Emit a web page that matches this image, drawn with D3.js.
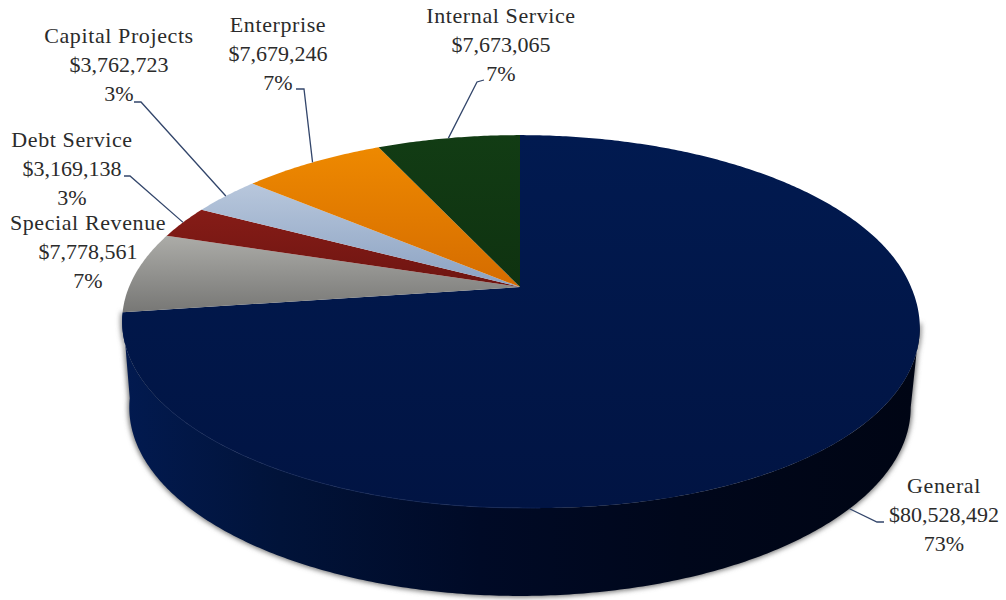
<!DOCTYPE html>
<html>
<head>
<meta charset="utf-8">
<script src="https://cdn.jsdelivr.net/npm/d3@7"></script>
<style>
  html, body { margin: 0; padding: 0; background: #fff; }
  text { font-family: "Liberation Serif", serif; font-size: 22px; fill: #2b2b2b; text-anchor: middle; }
  text.name { letter-spacing: 0.6px; }
</style>
</head>
<body>
<div id="chart"></div>
<script>
var categories = ["General", "Special Revenue", "Debt Service", "Capital Projects", "Enterprise", "Internal Service"];
var amounts = [80528492, 7778561, 3169138, 3762723, 7679246, 7673065];
var percentLabels = ["73%", "7%", "3%", "3%", "7%", "7%"];
var topColors = ["#011a50", "#acaca8", "#861c17", "#b8c7dc", "#ee8900", "#123c14"];
var bottomColors = ["#011443", "#777775", "#6e1511", "#8ba2c2", "#d56c00", "#0f3210"];

// label block centre x and first baseline y, same order as categories
var labelX = [944, 88, 72, 119, 278, 501];
var labelY = [493, 230, 147, 43, 32, 23];
// leader bends, from the pie outwards
var leaderBends = [
    [[877, 522], [884, 522]],
    null,
    [[130, 176], [124, 176]],
    [[141, 102], [134, 102]],
    [[304, 89], [296, 89]],
    [[477, 82], [484, 80]]
];

var width = 1006,
    height = 600,
    lineStep = 29;

// perspective of the tilted disc
var cx = 520,
    apexY = 287,
    radiusX = 391,
    radiusY = 180,
    tilt = 0.185;

var baseProject = function (a) {
    var w = 1 + tilt * Math.cos(a);
    return [cx + radiusX * Math.sin(a) / w, apexY - radiusY * Math.cos(a) / w];
};

// the front right of the top face bulges a little in the reference
var project = function (a) {
    var p = baseProject(a);
    if (a > Math.PI / 2 && a < Math.PI) {
        var b = Math.sin(2 * (a - Math.PI / 2));
        p = [p[0] + 5 * b, p[1] + 5 * b];
    }
    return p;
};

// rim of the bottom face, a bit narrower and lower than the top one
var projectBottom = function (a) {
    var p = baseProject(a);
    return [cx + (p[0] - cx) * 0.982, 407 + (p[1] - 321) * 1.011];
};

var line = d3.line();

var rim = function (from, to, fn) {
    var n = Math.max(2, Math.ceil(Math.abs(to - from) / 0.01));
    return d3.range(n + 1).map(function (i) {
        return fn(from + (to - from) * i / n);
    });
};

var pie = d3.pie().sort(null)(amounts);

var svg = d3.select("#chart").append("svg")
    .attr("width", width)
    .attr("height", height)
    .style("display", "block");

var defs = svg.append("defs");

defs.append("filter")
    .attr("id", "soft")
    .attr("x", "-10%").attr("y", "-10%").attr("width", "120%").attr("height", "120%")
    .append("feGaussianBlur")
    .attr("stdDeviation", 2.5);

var sideGrad = defs.append("linearGradient")
    .attr("id", "side")
    .attr("gradientUnits", "userSpaceOnUse")
    .attr("x1", 122).attr("x2", 918).attr("y1", 0).attr("y2", 0);
[[0, "#021a50"], [0.2, "#011339"], [0.45, "#000a26"], [0.7, "#00071b"], [1, "#000514"]].forEach(function (s) {
    sideGrad.append("stop").attr("offset", s[0]).attr("stop-color", s[1]);
});

categories.forEach(function (c, i) {
    var g = defs.append("linearGradient")
        .attr("id", "slice" + i)
        .attr("x1", 0).attr("x2", 0).attr("y1", 0).attr("y2", 1);
    g.append("stop").attr("offset", 0).attr("stop-color", topColors[i]);
    g.append("stop").attr("offset", 1).attr("stop-color", bottomColors[i]);
});

var sideStart = 1.757,
    sideEnd = pie[0].endAngle;
var sidePath = rim(sideStart, sideEnd, project)
    .concat(rim(sideEnd, sideStart, projectBottom));

svg.append("path")
    .attr("d", line(sidePath) + "Z")
    .attr("fill", "#777")
    .attr("stroke", "#777")
    .attr("stroke-width", 3)
    .attr("filter", "url(#soft)");

svg.append("path")
    .attr("d", line(sidePath) + "Z")
    .attr("fill", "url(#side)");

svg.selectAll("path.slice")
    .data(pie)
    .enter()
    .append("path")
    .attr("class", "slice")
    .attr("d", function (d) {
        return line([[cx, apexY]].concat(rim(d.startAngle, d.endAngle, project))) + "Z";
    })
    .attr("fill", function (d, i) { return "url(#slice" + i + ")"; });

// faint highlight where the top face meets the side, left part only
svg.append("path")
    .attr("d", line(rim(3.1, 4.1, project)))
    .attr("fill", "none")
    .attr("stroke", "#16295c")
    .attr("stroke-width", 0.7);

var leaderData = pie.map(function (d, i) {
    if (!leaderBends[i]) return null;
    var mid = (d.startAngle + d.endAngle) / 2;
    var start = i === 0 ? projectBottom(mid) : project(mid);
    return [start].concat(leaderBends[i]);
}).filter(Boolean);

svg.selectAll("path.leader")
    .data(leaderData)
    .enter()
    .append("path")
    .attr("class", "leader")
    .attr("d", function (d) { return line(d); })
    .attr("fill", "none")
    .attr("stroke", "#33466b")
    .attr("stroke-width", 1.3);

var labels = svg.selectAll("g.label")
    .data(categories)
    .enter()
    .append("g")
    .attr("class", "label");

labels.each(function (c, i) {
    var rows = [c, "$" + d3.format(",")(amounts[i]), percentLabels[i]];
    d3.select(this).selectAll("text")
        .data(rows)
        .enter()
        .append("text")
        .attr("class", function (r, j) { return j === 0 ? "name" : null; })
        .attr("x", labelX[i])
        .attr("y", function (r, j) { return labelY[i] + j * lineStep; })
        .text(function (r) { return r; });
});
</script>
</body>
</html>
